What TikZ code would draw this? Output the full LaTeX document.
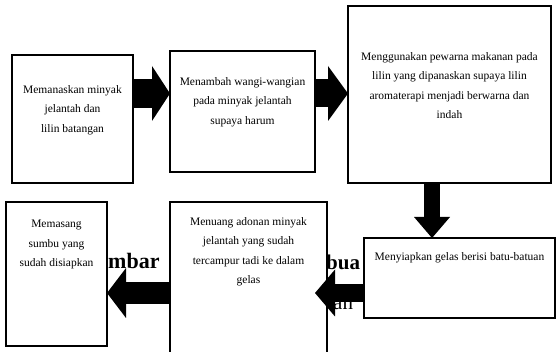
\documentclass[tikz,border=0pt]{standalone}
\usepackage{fontspec}
\setmainfont{Liberation Serif}
\usetikzlibrary{arrows.meta,positioning}

\begin{document}
\begin{tikzpicture}[
    x=1pt,y=-1pt,
    stepbox/.style={draw=black,line width=1.4pt,fill=white,inner sep=0pt,
      outer sep=0pt,anchor=north west},
    steptext/.style={anchor=north,align=center,inner sep=0pt,
      font=\fontsize{11.5}{19.5}\selectfont},
    bgtext/.style={anchor=base west,inner sep=0pt,font=\fontsize{21}{24}\selectfont},
    flow/.style n args={3}{draw=black,line width=#1,
      -{Triangle[length=#3,width=#2,line width=0pt]}}
  ]
    \useasboundingbox (0,0) rectangle (557,352);
    % caption of the page, mostly hidden behind the boxes
    \node[bgtext,font=\fontsize{22}{24}\selectfont\bfseries] (g1) at (108,269) {mbar};
    \node[bgtext,font=\fontsize{21}{24}\selectfont\bfseries] (g2) at (326,270) {bua};
    \node[bgtext] (g3) at (333,310) {an};
    % boxes
    \node[stepbox,minimum width=121pt,minimum height=128pt] (b1) at (12,55) {};
    \node[stepbox,minimum width=145pt,minimum height=121pt] (b2) at (170,51) {};
    \node[stepbox,minimum width=203pt,minimum height=177pt] (b3) at (348,6) {};
    \node[stepbox,minimum width=191pt,minimum height=80pt] (b4) at (364,238) {};
    \node[stepbox,minimum width=157pt,minimum height=163pt] (b5) at (170,202) {};
    \node[stepbox,minimum width=101pt,minimum height=144pt] (b6) at (6,202) {};
    \node[steptext,below=30pt of b1.north] (t1) {Memanaskan minyak\\jelantah dan\\lilin batangan};
    \node[steptext,below=26pt of b2.north] (t2) {Menambah wangi-wangian\\pada minyak jelantah\\supaya harum};
    \node[steptext,below=46pt of b3.north] (t3) {Menggunakan pewarna makanan pada\\lilin yang dipanaskan supaya lilin\\aromaterapi menjadi berwarna dan\\indah};
    \node[steptext,below=14pt of b4.north] (t4) {Menyiapkan gelas berisi batu-batuan};
    \node[steptext,below=15pt of b5.north] (t5) {Menuang adonan minyak\\jelantah yang sudah\\tercampur tadi ke dalam\\gelas};
    \node[steptext,below=18pt of b6.north] (t6) {Memasang\\sumbu yang\\sudah disiapkan};
    % arrows
    \coordinate (r1) at (0,93.5);
    \coordinate (r2) at (0,293);
    \coordinate (c3) at (432,0);
    \draw[flow={29pt}{55pt}{18pt}] (b1.east |- r1) -- (b2.west |- r1);
    \draw[flow={28pt}{55pt}{20pt}] (b2.east |- r1) -- (b3.west |- r1);
    \draw[flow={16pt}{36pt}{21pt}] (b3.south -| c3) -- (b4.north -| c3);
    \draw[flow={18pt}{47pt}{20pt},shorten >=-12pt] (b4.west |- r2) -- (b5.east |- r2);
    \draw[flow={22pt}{50pt}{19pt}] (b5.west |- r2) -- (b6.east |- r2);
\end{tikzpicture}
\end{document}
